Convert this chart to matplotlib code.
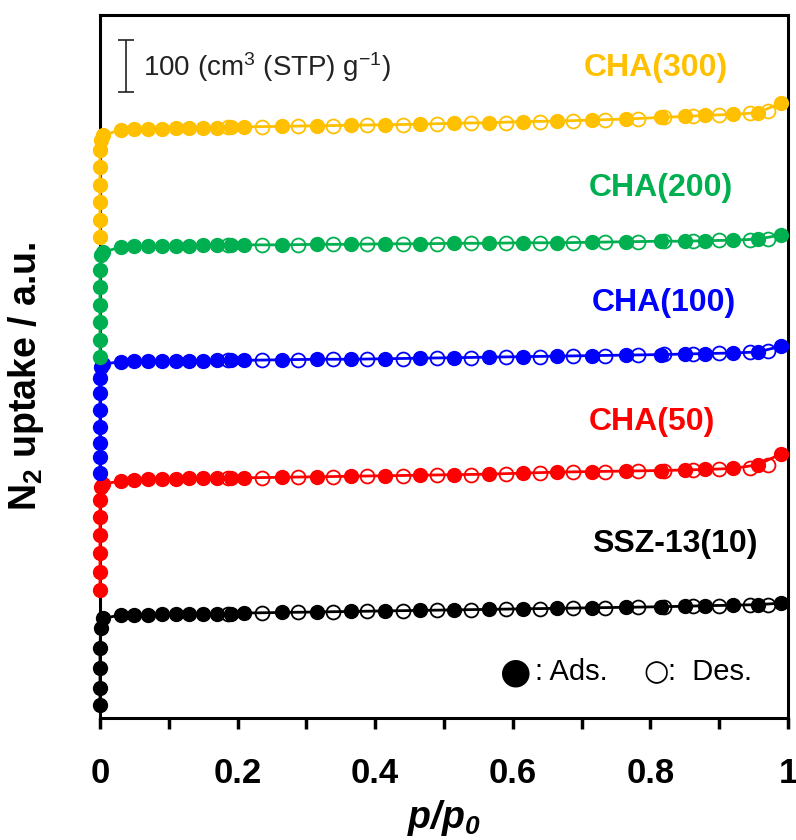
import matplotlib.pyplot as plt

plt.rcParams['font.family'] = ['Liberation Sans', 'DejaVu Sans']
plt.rcParams['mathtext.default'] = 'regular'

# relative pressures, adsorption branch (plateau part, shared)
p_ads = [0.005, 0.03, 0.05, 0.07, 0.09, 0.11, 0.13, 0.15, 0.17, 0.19, 0.21, 0.265, 0.315,
         0.365, 0.415, 0.465, 0.515, 0.565, 0.615, 0.665, 0.715, 0.765, 0.815, 0.85,
         0.88, 0.92, 0.956, 0.99]
# desorption branch
p_des = [0.971, 0.945, 0.90, 0.862, 0.82, 0.782, 0.734, 0.688, 0.64, 0.59, 0.54, 0.49,
         0.44, 0.388, 0.339, 0.288, 0.235, 0.186]

# low-pressure points (all sit on p ~ 0), stacked uptake in a.u. (100 cm3/g = 100)
low_ssz = [25, 58, 96, 135, 173]
low_50 = [246, 281, 317, 352, 387, 419, 444]
low_100 = [471, 502, 529, 560, 592, 625, 654, 675]
low_200 = [694, 727, 762, 794, 829, 862, 890]
low_300 = [925, 958, 992, 1025, 1060, 1092, 1112]

ads_ssz = [192, 198, 199, 199, 200, 200, 200, 201, 201, 201, 202, 203, 204, 205, 206, 207,
           208, 209, 210, 211, 212, 213, 214, 215, 216, 217, 218, 221]
des_ssz = [218, 217, 216, 215, 214, 213, 212, 211, 210, 209, 208, 207, 206, 205, 204, 203,
           202, 201]
ads_50 = [450, 456, 458, 459, 460, 460, 461, 461, 462, 462, 462, 463, 464, 465, 466, 467,
          468, 469, 471, 473, 474, 475, 476, 477, 478, 480, 487, 508]
des_50 = [486, 481, 478, 477, 476, 475, 474, 473, 471, 469, 468, 467, 466, 465, 464, 463,
          462, 461]
ads_100 = [681, 685, 686, 686, 686, 687, 687, 687, 688, 688, 688, 689, 690, 690, 691, 692,
           693, 694, 695, 696, 697, 698, 699, 700, 701, 702, 704, 715]
des_100 = [705, 703, 702, 701, 700, 698, 697, 696, 695, 694, 693, 692, 691, 690, 690, 689,
           688, 688]
ads_200 = [896, 906, 907, 907, 908, 908, 908, 909, 909, 910, 910, 910, 911, 911, 912, 912,
           913, 913, 914, 914, 915, 916, 917, 917, 918, 919, 921, 929]
des_200 = [922, 920, 919, 918, 917, 916, 915, 914, 914, 913, 913, 912, 912, 911, 911, 910,
           910, 909]
ads_300 = [1121, 1131, 1132, 1133, 1133, 1134, 1134, 1135, 1135, 1136, 1137, 1138, 1139,
           1140, 1141, 1142, 1144, 1145, 1147, 1148, 1150, 1152, 1155, 1157, 1159, 1161,
           1164, 1183]
des_300 = [1167, 1163, 1160, 1158, 1155, 1153, 1151, 1149, 1147, 1145, 1144, 1142, 1141,
           1140, 1139, 1138, 1137, 1136]

series = [
    ('SSZ-13(10)', '#000000', low_ssz, ads_ssz, des_ssz, (0.836, 335)),
    ('CHA(50)', '#FF0000', low_50, ads_50, des_50, (0.802, 569)),
    ('CHA(100)', '#0000FF', low_100, ads_100, des_100, (0.82, 798)),
    ('CHA(200)', '#00B050', low_200, ads_200, des_200, (0.815, 1019)),
    ('CHA(300)', '#FFC000', low_300, ads_300, des_300, (0.808, 1250)),
]

fig = plt.figure(figsize=(7.96, 8.4), dpi=100)
ax = fig.add_axes([0.1256, 0.1452, 0.8643, 0.8369])

for name, col, low, ads, des, (lx, ly) in series:
    px = [0.0] * (len(low) - 1) + [0.001] + p_ads
    py = low + ads
    ax.plot(px, py, '-o', color=col, lw=2, ms=10, clip_on=False, zorder=3)
    ax.plot(p_des, des, 'o', mfc='none', mec=col, mew=1.3, ms=10, clip_on=False, zorder=2)
    ax.text(lx, ly, name, color=col, fontsize=23, fontweight='bold', ha='center', va='center')

ax.set_xlim(0, 1)
ax.set_ylim(0, 1352)
ax.set_xticks([0, 0.2, 0.4, 0.6, 0.8, 1.0])
ax.set_xticklabels(['0', '0.2', '0.4', '0.6', '0.8', '1'])
ax.set_xticks([0.1, 0.3, 0.5, 0.7, 0.9], minor=True)
ax.tick_params(axis='x', which='both', direction='out', length=8, width=2.5,
               labelsize=25, pad=20)
for lab in ax.get_xticklabels():
    lab.set_fontweight('bold')
ax.set_yticks([])
for s in ax.spines.values():
    s.set_linewidth(2.2)

ax.set_xlabel('p/p$_0$', fontsize=27, fontweight='bold', fontstyle='italic', labelpad=6)
ax.set_ylabel('N$_2$ uptake / a.u.', fontsize=27, fontweight='bold')
ax.yaxis.set_label_coords(-0.078, 0.486)

# scale bar: 100 cm3 (STP) g-1
ax.errorbar([0.038], [1204], yerr=[[0], [100]], color='#222222', lw=1.2, capsize=5.5,
            capthick=1.2)
ax.text(0.063, 1252, '100 (cm$^3$ (STP) g$^{-1}$)', fontsize=20, va='center',
        color='#222222')

ax.text(0.605, 88, '\u25CF', fontsize=26, va='center', ha='center',
        family=['DejaVu Sans'])
ax.text(0.632, 88, ': Ads.', fontsize=21, va='center', ha='left')
ax.text(0.808, 88, '\u25CB', fontsize=21, va='center', ha='center',
        family=['DejaVu Sans'])
ax.text(0.826, 88, ':  Des.', fontsize=21, va='center', ha='left')

fig.savefig('out.png', dpi=100)
